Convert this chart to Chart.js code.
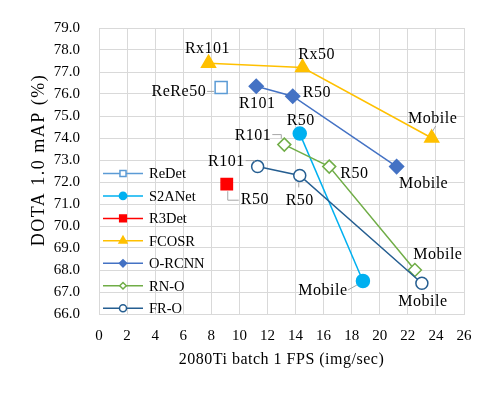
<!DOCTYPE html>
<html>
<head>
<meta charset="utf-8">
<script src="https://cdn.jsdelivr.net/npm/chart.js@4.4.1/dist/chart.umd.min.js"></script>
<style>
    html, body { margin: 0; padding: 0; background: #fff; }
    #wrap { width: 497px; height: 395px; }
</style>
</head>
<body>
<div id="wrap"><canvas id="fpsChart" width="497" height="395"></canvas></div>
<script>
// series values: FPS (x) and mAP (y)
const seriesNames = ['ReDet', 'S2ANet', 'R3Det', 'FCOSR', 'O-RCNN', 'RN-O', 'FR-O'];

const redetFps = [8.7];
const redetMap = [76.3];
const redetLabels = ['ReRe50'];

const s2anetFps = [14.3, 18.8];
const s2anetMap = [74.2, 67.5];
const s2anetLabels = ['R50', 'Mobile'];

const r3detFps = [9.1];
const r3detMap = [71.9];
const r3detLabels = ['R50'];

const fcosrFps = [7.8, 14.5, 23.7];
const fcosrMap = [77.4, 77.2, 74.0];
const fcosrLabels = ['Rx101', 'Rx50', 'Mobile'];

const orcnnFps = [11.2, 13.8, 21.2];
const orcnnMap = [76.35, 75.9, 72.7];
const orcnnLabels = ['R101', 'R50', 'Mobile'];

const rnoFps = [13.2, 16.4, 22.5];
const rnoMap = [73.7, 72.7, 68.0];
const rnoLabels = ['R101', 'R50', 'Mobile'];

const froFps = [11.3, 14.3, 23.0];
const froMap = [72.7, 72.3, 67.4];
const froLabels = ['R101', 'R50', 'Mobile'];

// axis ranges
const xMin = 0, xMax = 26, xStep = 2;
const yMin = 66, yMax = 79, yStep = 1;

const xTitle = '2080Ti batch 1 FPS (img/sec)';
const yTitle = 'DOTA 1.0 mAP (%)';

const FONT = '"Liberation Serif", "Times New Roman", serif';

function toPoints(xs, ys) {
    return xs.map((x, i) => ({ x: x, y: ys[i] }));
}

// where each point label sits, relative to its marker
const labelPlacement = [
    [{ dx: -15, dy: 4, align: 'right', leader: [[-14, 4], [-7, 4]] }],
    [{ dx: 1, dy: -13, align: 'center' },
     { dx: -40, dy: 10, align: 'center', leader: [[-15, 9], [-6, 4]] }],
    [{ dx: 14, dy: 16, align: 'left', leader: [[1, 7], [1, 16], [12, 16]] }],
    [{ dx: -1, dy: -14, align: 'center' },
     { dx: 14, dy: -13, align: 'center' },
     { dx: 1, dy: -19, align: 'center', leader: [[4, -12], [1, -7]] }],
    [{ dx: 1, dy: 17, align: 'center' },
     { dx: 10, dy: -3, align: 'left' },
     { dx: 27, dy: 17, align: 'center' }],
    [{ dx: -13, dy: -9, align: 'right', leader: [[-12, -10], [-3, -10], [-3, -6]] },
     { dx: 11, dy: 7, align: 'left' },
     { dx: 23, dy: -15, align: 'center' }],
    [{ dx: -13, dy: -5, align: 'right', leader: [[-12, -6], [-3, -6], [-3, -5]] },
     { dx: 0, dy: 25, align: 'center', leader: [[-1, 7], [-1, 12]] },
     { dx: 1, dy: 19, align: 'center' }]
];

const legendMarkerRadius = [4.3, 3.6, 4.7, 4.5, 3.6, 3.3, 3.5];

function makeSeries(name, xs, ys, labels, color, fill, style, radius, order) {
    return {
        label: name,
        data: toPoints(xs, ys),
        pointLabels: labels,
        showLine: true,
        borderColor: color,
        backgroundColor: color,
        borderWidth: 1.5,
        pointStyle: style,
        pointRadius: radius,
        pointHoverRadius: radius,
        pointBackgroundColor: fill,
        pointBorderColor: color,
        pointBorderWidth: 1.5,
        order: order
    };
}

const pointLabelPlugin = {
    id: 'pointLabelPlugin',
    afterDatasetsDraw(chart) {
        const ctx = chart.ctx;
        chart.data.datasets.forEach((ds, di) => {
            const meta = chart.getDatasetMeta(di);
            meta.data.forEach((pt, pi) => {
                const p = labelPlacement[di][pi];
                ctx.save();
                if (p.leader) {
                    ctx.strokeStyle = '#a6a6a6';
                    ctx.lineWidth = 1;
                    ctx.beginPath();
                    p.leader.forEach((l, k) => {
                        if (k === 0) ctx.moveTo(pt.x + l[0], pt.y + l[1]);
                        else ctx.lineTo(pt.x + l[0], pt.y + l[1]);
                    });
                    ctx.stroke();
                }
                ctx.font = '16px ' + FONT;
                ctx.letterSpacing = '0.5px';
                ctx.fillStyle = '#000';
                ctx.textAlign = p.align;
                ctx.textBaseline = 'middle';
                ctx.fillText(ds.pointLabels[pi], pt.x + p.dx, pt.y + p.dy);
                ctx.restore();
            });
        });
    }
};

const insideLegendPlugin = {
    id: 'insideLegendPlugin',
    afterDraw(chart) {
        const ctx = chart.ctx;
        const area = chart.chartArea;
        chart.data.datasets.forEach((ds, i) => {
            const y = area.top + 145.5 + i * 22.45;
            const x0 = area.left + 4;
            const x1 = area.left + 44;
            ctx.save();
            ctx.strokeStyle = ds.borderColor;
            ctx.lineWidth = 1.5;
            ctx.beginPath();
            ctx.moveTo(x0, y);
            ctx.lineTo(x1, y);
            ctx.stroke();
            ctx.fillStyle = ds.pointBackgroundColor;
            ctx.strokeStyle = ds.pointBorderColor;
            Chart.helpers.drawPoint(ctx, {
                pointStyle: ds.pointStyle,
                radius: legendMarkerRadius[i],
                borderWidth: 1.2,
                rotation: 0
            }, (x0 + x1) / 2, y);
            ctx.fillStyle = '#000';
            ctx.font = '14.5px ' + FONT;
            ctx.textAlign = 'left';
            ctx.textBaseline = 'middle';
            ctx.fillText(ds.label, x1 + 6, y + 1);
            ctx.restore();
        });
    }
};

const axisTitlePlugin = {
    id: 'axisTitlePlugin',
    afterDraw(chart) {
        const ctx = chart.ctx;
        const area = chart.chartArea;
        ctx.save();
        ctx.fillStyle = '#000';
        ctx.textAlign = 'center';
        ctx.textBaseline = 'middle';
        ctx.font = '16px ' + FONT;
        ctx.letterSpacing = '0.5px';
        ctx.fillText(xTitle, (area.left + area.right) / 2, area.bottom + 46);
        ctx.translate(39, area.top + 132);
        ctx.rotate(-Math.PI / 2);
        ctx.font = '18px ' + FONT;
        ctx.letterSpacing = '1.5px';
        ctx.fillText(yTitle, 0, 0);
        ctx.restore();
    }
};

const ctx = document.getElementById('fpsChart').getContext('2d');
new Chart(ctx, {
    type: 'scatter',
    data: {
        datasets: [
            makeSeries(seriesNames[0], redetFps, redetMap, redetLabels, '#5b9bd5', '#ffffff', 'rect', 8.5, 7),
            makeSeries(seriesNames[1], s2anetFps, s2anetMap, s2anetLabels, '#00b0f0', '#00b0f0', 'circle', 6.5, 6),
            makeSeries(seriesNames[2], r3detFps, r3detMap, r3detLabels, '#ff0000', '#ff0000', 'rect', 8, 5),
            makeSeries(seriesNames[3], fcosrFps, fcosrMap, fcosrLabels, '#ffc000', '#ffc000', 'triangle', 8, 4),
            makeSeries(seriesNames[4], orcnnFps, orcnnMap, orcnnLabels, '#4472c4', '#4472c4', 'rectRot', 7, 3),
            makeSeries(seriesNames[5], rnoFps, rnoMap, rnoLabels, '#70ad47', '#ffffff', 'rectRot', 6.5, 2),
            makeSeries(seriesNames[6], froFps, froMap, froLabels, '#255e91', '#ffffff', 'circle', 6, 1)
        ]
    },
    options: {
        responsive: false,
        animation: false,
        layout: { padding: { left: 0, right: 33, top: 23, bottom: 0 } },
        plugins: {
            legend: { display: false },
            tooltip: { enabled: false }
        },
        scales: {
            x: {
                type: 'linear',
                min: xMin,
                max: xMax,
                afterFit: function(scale) { scale.height = 81; },
                ticks: {
                    stepSize: xStep,
                    padding: 13,
                    color: '#000',
                    font: { family: FONT, size: 15 }
                },
                grid: { color: '#d9d9d9', lineWidth: 1, drawTicks: false },
                border: { color: '#d9d9d9' }
            },
            y: {
                type: 'linear',
                min: yMin,
                max: yMax,
                afterFit: function(scale) { scale.width = 99; },
                ticks: {
                    stepSize: yStep,
                    padding: 19,
                    color: '#000',
                    font: { family: FONT, size: 15 },
                    callback: function(value) { return value.toFixed(1); }
                },
                grid: { color: '#d9d9d9', lineWidth: 1, drawTicks: false },
                border: { color: '#d9d9d9' }
            }
        }
    },
    plugins: [pointLabelPlugin, insideLegendPlugin, axisTitlePlugin]
});
</script>
</body>
</html>
